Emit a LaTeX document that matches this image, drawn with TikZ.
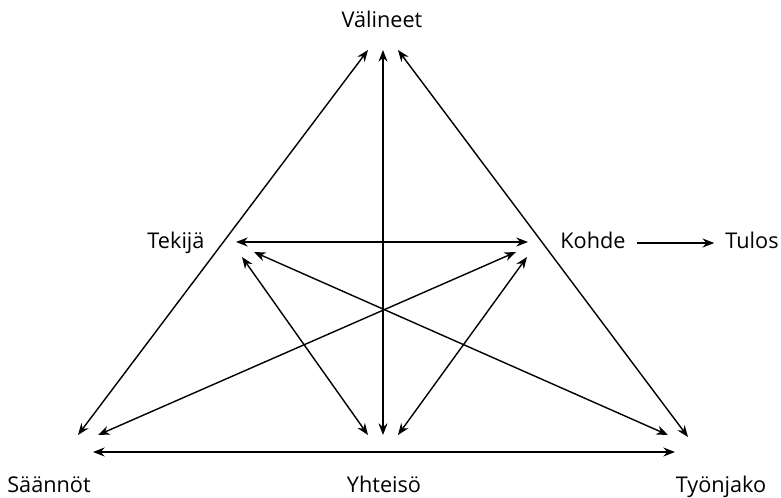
\documentclass[tikz,border=0pt]{standalone}
\usepackage{fontspec}
\setmainfont{Open Sans}
\usetikzlibrary{arrows.meta,calc}
\begin{document}
\begin{tikzpicture}[x=0.03cm,y=-0.03cm,
    term/.style={anchor=base,inner sep=0pt,font=\fontsize{18.5}{22}\selectfont},
    link/.style={{Stealth[length=3.5mm,width=2.7mm]}-{Stealth[length=3.5mm,width=2.7mm]},line width=1.2pt}]
  \useasboundingbox (0,0) rectangle (781,497);
  % labels
  \node[term] (valineet) at (382,27) {Välineet};
  \node[term] (tekija) at (176,248) {Tekijä};
  \node[term] (kohde) at (593,248) {Kohde};
  \node[term] (tulos) at (752,248) {Tulos};
  \node[term] (saannot) at (49,492) {Säännöt};
  \node[term] (yhteiso) at (384,492) {Yhteisö};
  \node[term] (tyonjako) at (721,492) {Työnjako};
  % arrow ends
  \coordinate (v1) at (368,50);
  \coordinate (v2) at (383,50);
  \coordinate (v3) at (398,50);
  \coordinate (t1) at (236,242);
  \coordinate (t2) at (254,252);
  \coordinate (t3) at (242,257);
  \coordinate (k1) at (528,242);
  \coordinate (k2) at (516,252);
  \coordinate (k3) at (527,257);
  \coordinate (s1) at (78,435);
  \coordinate (s2) at (98,435);
  \coordinate (s3) at (93,452);
  \coordinate (y1) at (368,435);
  \coordinate (y2) at (383,435);
  \coordinate (y3) at (398,435);
  \coordinate (j1) at (688,437);
  \coordinate (j2) at (668,435);
  \coordinate (j3) at (675,452);
  \begin{scope}[link]
    \draw (v1) -- (s1);
    \draw (v2) -- (y2);
    \draw (v3) -- (j1);
    \draw (t1) -- (k1);
    \draw (t2) -- (j2);
    \draw (t3) -- (y1);
    \draw (k2) -- (s2);
    \draw (k3) -- (y3);
    \draw (s3) -- (j3);
  \end{scope}
  \draw[-{Stealth[length=3.5mm,width=2.7mm]},line width=1.2pt]
    ($(kohde.base east)+(11,-5)$) -- ($(tulos.base west)+(-11,-5)$);
\end{tikzpicture}
\end{document}
